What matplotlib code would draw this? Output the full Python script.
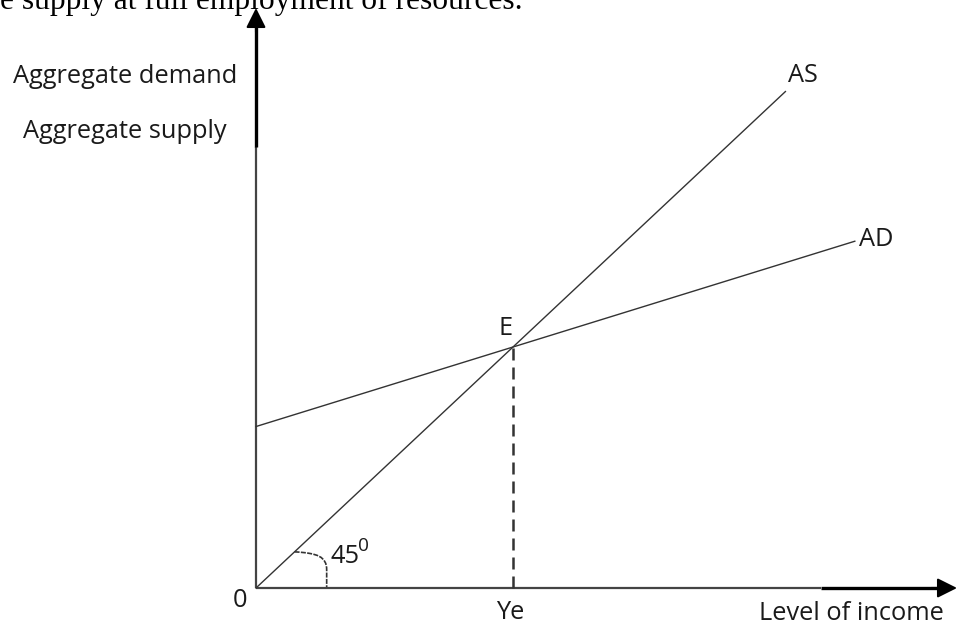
import matplotlib.pyplot as plt
import numpy as np
from matplotlib.path import Path
from matplotlib.patches import PathPatch

# Keynesian cross: values in "income units"
as_x = np.array([0.0, 20.6])          # aggregate supply, 45 degree line
as_y = as_x.copy()
ad_intercept = 6.7                     # autonomous demand
ad_slope = 0.33
ad_x = np.array([0.0, 23.3])
ad_y = ad_intercept + ad_slope * ad_x
y_eq = ad_intercept / (1 - ad_slope)  # equilibrium income Ye (= 10)

top_text = 'e supply at full employment of resources.'
y_labels = ['Aggregate demand', 'Aggregate supply']
x_label = 'Level of income'

# scale: pixels per unit
kx, ky = 25.7, 24.1

fig = plt.figure(figsize=(9.57, 6.25), dpi=100)
ax = fig.add_axes([0, 0, 1, 1])
ax.set_xlim(-256 / kx, 701 / kx)
ax.set_ylim(-37 / ky, 588 / ky)
ax.axis('off')

ink = '#1a1a1a'
font = 'Open Sans'
fs = 18.3

# axes with arrows
y_top = 580 / ky
x_end = 701 / kx
ax.plot([0, 0], [0, 18.3], color='#444444', lw=1.6, solid_capstyle='butt')
ax.plot([0, 0], [18.3, y_top - 0.5], color='black', lw=2.4, solid_capstyle='butt')
ax.plot([0, 22.0], [0, 0], color='#444444', lw=1.6, solid_capstyle='butt')
ax.plot([22.0, x_end - 0.25], [0, 0], color='black', lw=2.4, solid_capstyle='butt')
arrow = dict(arrowstyle='-|>,head_length=0.6,head_width=0.3', color='black',
             lw=1.5, mutation_scale=20, shrinkA=0, shrinkB=0)
ax.annotate('', xy=(0, y_top), xytext=(0, y_top - 1.0), arrowprops=arrow)
ax.annotate('', xy=(x_end, 0), xytext=(x_end - 1.0, 0), arrowprops=arrow)

# curves
ax.plot(as_x, as_y, color='#333333', lw=1.0)
ax.plot(ad_x, ad_y, color='#333333', lw=1.0)
ax.plot([y_eq, y_eq], [0, y_eq], color='#333333', lw=1.8,
        linestyle=(0, (4.8, 2.8)))

# 45 degree mark
verts = [(1.5, 1.5), (2.4, 1.45), (2.75, 1.3), (2.75, 0.75), (2.75, 0.0)]
codes = [Path.MOVETO, Path.CURVE4, Path.CURVE4, Path.CURVE4, Path.LINETO]
ax.add_patch(PathPatch(Path(verts, codes), fill=False, edgecolor='#333333',
                       lw=1.2, linestyle=(0, (3, 0.8))))

# labels
ax.text(-256 / kx, 24.02, top_text, family='Liberation Serif', fontsize=22.7,
        color='black', ha='left', va='baseline')
ax.text(-5.1, 20.95, y_labels[0], family=font, fontsize=fs, color=ink,
        ha='center', va='baseline')
ax.text(-5.1, 18.67, y_labels[1], family=font, fontsize=fs, color=ink,
        ha='center', va='baseline')
ax.text(20.7, 21.0, 'AS', family=font, fontsize=fs, color=ink, va='baseline')
ax.text(23.46, 14.19, 'AD', family=font, fontsize=fs, color=ink, va='baseline')
ax.text(9.73, 10.5, 'E', family=font, fontsize=fs, color=ink, ha='center',
        va='baseline')
ax.text(9.88, -1.29, 'Ye', family=font, fontsize=fs, color=ink, ha='center',
        va='baseline')
ax.text(-0.62, -0.79, '0', family=font, fontsize=fs, color=ink, ha='center',
        va='baseline')
ax.text(19.57, -1.33, x_label, family=font, fontsize=fs, color=ink,
        va='baseline')
ax.text(2.88, 1.04, '45', family=font, fontsize=fs, color=ink, va='baseline')
ax.text(3.95, 1.55, '0', family=font, fontsize=fs * 0.75, color=ink,
        va='baseline')

fig.savefig('out.png', dpi=100)
